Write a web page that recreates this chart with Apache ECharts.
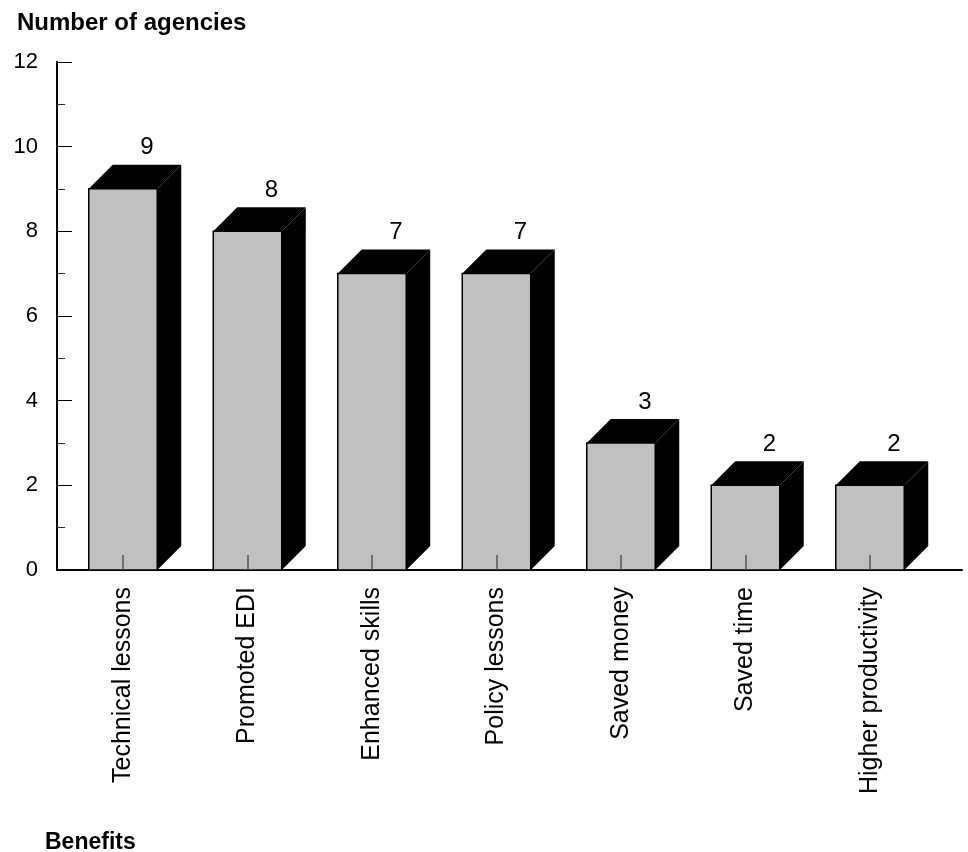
<!DOCTYPE html>
<html>
<head>
<meta charset="utf-8">
<script src="https://cdn.jsdelivr.net/npm/echarts@6/dist/echarts.min.js"></script>
<style>
  html, body { margin: 0; padding: 0; background: #fff; }
  #chart { width: 968px; height: 852px; }
</style>
</head>
<body>
<div id="chart"></div>
<script>
// data
var categories = ['Technical lessons', 'Promoted EDI', 'Enhanced skills', 'Policy lessons',
    'Saved money', 'Saved time', 'Higher productivity'];
var agencies = [9, 8, 7, 7, 3, 2, 2];
var yTicks = [0, 2, 4, 6, 8, 10, 12];

var FONT = 'Liberation Sans, Arial, sans-serif';
var DEPTH = 24;

// front face + black top + black side
function renderBar(params, api) {
    var v = api.value(1);
    var base = api.coord([api.value(0), 0]);
    var top = api.coord([api.value(0), v]);
    var w = api.size([1, 0])[0] * 0.55;
    var x0 = base[0] - w / 2, x1 = base[0] + w / 2;
    var y0 = base[1], y1 = top[1];
    var d = DEPTH;
    return {
        type: 'group',
        children: [{
            type: 'polygon',
            shape: { points: [[x0, y1], [x0 + d, y1 - d], [x1 + d, y1 - d], [x1, y1]] },
            style: { fill: '#000' }
        }, {
            type: 'polygon',
            shape: { points: [[x1, y0], [x1, y1], [x1 + d, y1 - d], [x1 + d, y0 - d]] },
            style: { fill: '#000' }
        }, {
            type: 'rect',
            shape: { x: x0, y: y1, width: w, height: y0 - y1 },
            style: { fill: '#c0c0c0', stroke: '#000', lineWidth: 1.5 }
        }, {
            type: 'text',
            style: {
                text: String(v), x: (x0 + x1) / 2 + d, y: y1 - d - 5,
                align: 'center', verticalAlign: 'bottom',
                fontSize: 24, fontFamily: FONT, fill: '#000'
            }
        }]
    };
}

var chart = echarts.init(document.getElementById('chart'));
chart.setOption({
    backgroundColor: '#fff',
    animation: false,
    title: [{
        text: 'Number of agencies', left: 12, top: 6,
        textStyle: { fontSize: 24, fontWeight: 'bold', fontFamily: FONT, color: '#000' }
    }, {
        text: 'Benefits', left: 40, top: 826,
        textStyle: { fontSize: 23, fontWeight: 'bold', fontFamily: FONT, color: '#000' }
    }],
    grid: [
        // bars and category labels
        { left: 60.75, right: 35.75, top: 61.8, bottom: 282 },
        // axis lines
        { left: 57, right: 6, top: 61.8, bottom: 282 }
    ],
    xAxis: [{
        type: 'category',
        gridIndex: 0,
        data: categories,
        z: 10,
        axisLine: { show: false },
        axisTick: { show: true, inside: true, alignWithLabel: true, length: 15, lineStyle: { color: '#555', width: 1.5 } },
        axisLabel: { rotate: 90, margin: 17, fontSize: 25, fontFamily: FONT, color: '#000' }
    }, {
        type: 'value',
        gridIndex: 1,
        min: 0, max: 1,
        axisLine: { show: true, lineStyle: { color: '#000', width: 2 } },
        axisTick: { show: false },
        axisLabel: { show: false },
        splitLine: { show: false }
    }],
    yAxis: [{
        type: 'value',
        gridIndex: 1,
        min: yTicks[0], max: yTicks[yTicks.length - 1], interval: 2,
        axisLine: { show: true, lineStyle: { color: '#000', width: 2 } },
        axisTick: { show: true, inside: true, length: 15, lineStyle: { color: '#000', width: 1 } },
        minorTick: { show: true, splitNumber: 2, length: 8, lineStyle: { color: '#333', width: 1 } },
        axisLabel: { margin: 19, fontSize: 22, fontFamily: FONT, color: '#000' },
        splitLine: { show: false }
    }, {
        type: 'value',
        gridIndex: 0,
        min: yTicks[0], max: yTicks[yTicks.length - 1],
        show: false
    }],
    series: [{
        type: 'custom',
        xAxisIndex: 0,
        yAxisIndex: 1,
        renderItem: renderBar,
        data: agencies.map(function (v, i) { return [i, v]; })
    }]
});
</script>
</body>
</html>
